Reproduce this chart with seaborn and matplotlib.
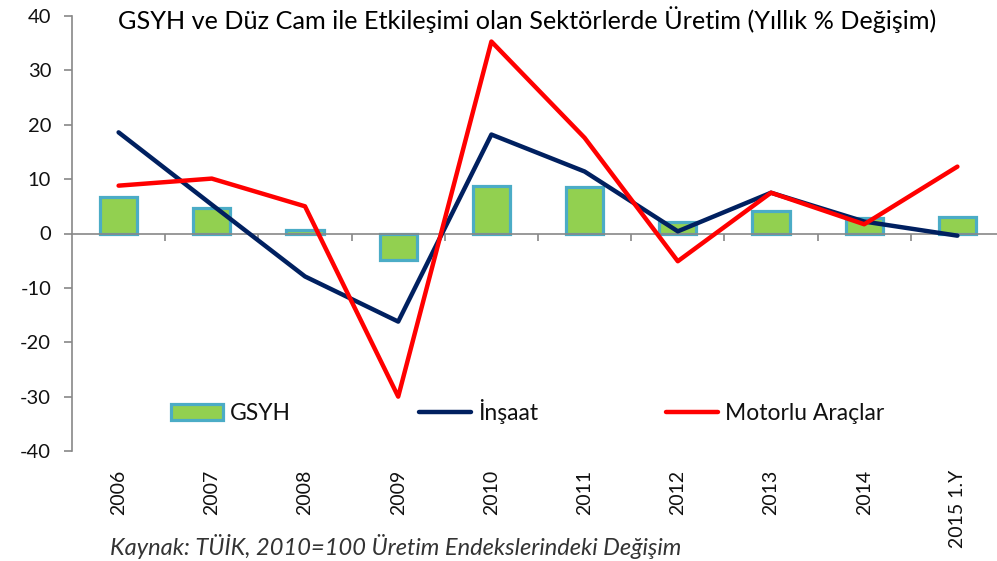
import numpy as np
import pandas as pd
import matplotlib
matplotlib.use("Agg")
import matplotlib.pyplot as plt
import seaborn as sns

# values
years = ["2006", "2007", "2008", "2009", "2010", "2011", "2012", "2013", "2014", "2015 1.Y"]
gsyh = [6.8, 4.6, 0.6, -4.8, 8.8, 8.6, 2.2, 4.2, 2.9, 3.1]
insaat = [18.6, 5.3, -7.9, -16.2, 18.2, 11.4, 0.4, 7.5, 2.2, -0.4]
motorlu = [8.8, 10.1, 5.0, -30.0, 35.3, 17.6, -5.1, 7.5, 1.7, 12.3]

title = "GSYH ve Düz Cam ile Etkileşimi olan Sektörlerde Üretim (Yıllık % Değişim)"
source = "Kaynak: TÜİK, 2010=100 Üretim Endekslerindeki Değişim"

sns.set_style("white")
plt.rcParams["font.family"] = ["Lato", "DejaVu Sans"]
plt.rcParams["axes.unicode_minus"] = False

df = pd.DataFrame({"yil": years, "GSYH": gsyh, "İnşaat": insaat, "Motorlu Araçlar": motorlu})
df["pos"] = np.arange(len(df))

fig = plt.figure(figsize=(9.97, 5.61), dpi=100)
ax = fig.add_axes([72 / 997, 110 / 561, 932 / 997, 435 / 561])

sns.barplot(data=df, x="yil", y="GSYH", order=years, color="#92D050", width=0.4,
            edgecolor="#4BACC6", linewidth=2.3, saturation=1, ax=ax, label="GSYH")
sns.lineplot(data=df, x="pos", y="İnşaat", color="#002060", linewidth=3.2, ax=ax,
             label="İnşaat", zorder=3)
sns.lineplot(data=df, x="pos", y="Motorlu Araçlar", color="#FF0000", linewidth=3.2, ax=ax,
             label="Motorlu Araçlar", zorder=4)

ax.set_xlim(-0.5, len(years) - 0.5)
ax.set_ylim(-40, 40)
ax.set_yticks(range(-40, 41, 10))
ax.set_xlabel("")
ax.set_ylabel("")

for s in ["top", "right"]:
    ax.spines[s].set_visible(False)
for s in ["left", "bottom"]:
    ax.spines[s].set_color("#888888")
    ax.spines[s].set_linewidth(1.2)
ax.spines["bottom"].set_position(("data", 0))

ax.set_xticks(np.arange(len(years)))
ax.set_xticklabels(years, rotation=90)
ax.set_xticks(np.arange(len(years)) + 0.5, minor=True)
ax.tick_params(axis="x", which="major", length=0, pad=170, labelsize=14, colors="#111111")
ax.tick_params(axis="x", which="minor", bottom=True, length=5, width=1.2, color="#888888")
ax.tick_params(axis="y", left=True, length=6, width=1.2, color="#888888", pad=9,
               labelsize=14.5, labelcolor="#111111")

handles, labels = ax.get_legend_handles_labels()
order = [labels.index(l) for l in ["GSYH", "İnşaat", "Motorlu Araçlar"]]
ax.legend([handles[i] for i in order], [labels[i] for i in order],
          loc="center", bbox_to_anchor=(0.489, 0.09), ncol=3, frameon=False,
          fontsize=16.5, handlelength=2.27, handletextpad=0.3, columnspacing=5.6,
          labelcolor="#111111")

fig.text(527 / 997, 1 - 20 / 561, title, ha="center", va="center", fontsize=18.2, color="black")
fig.text(110 / 997, 2 / 561, source, ha="left", va="bottom", fontsize=17,
         style="italic", color="#333333")

fig.savefig("out.png", dpi=100)
